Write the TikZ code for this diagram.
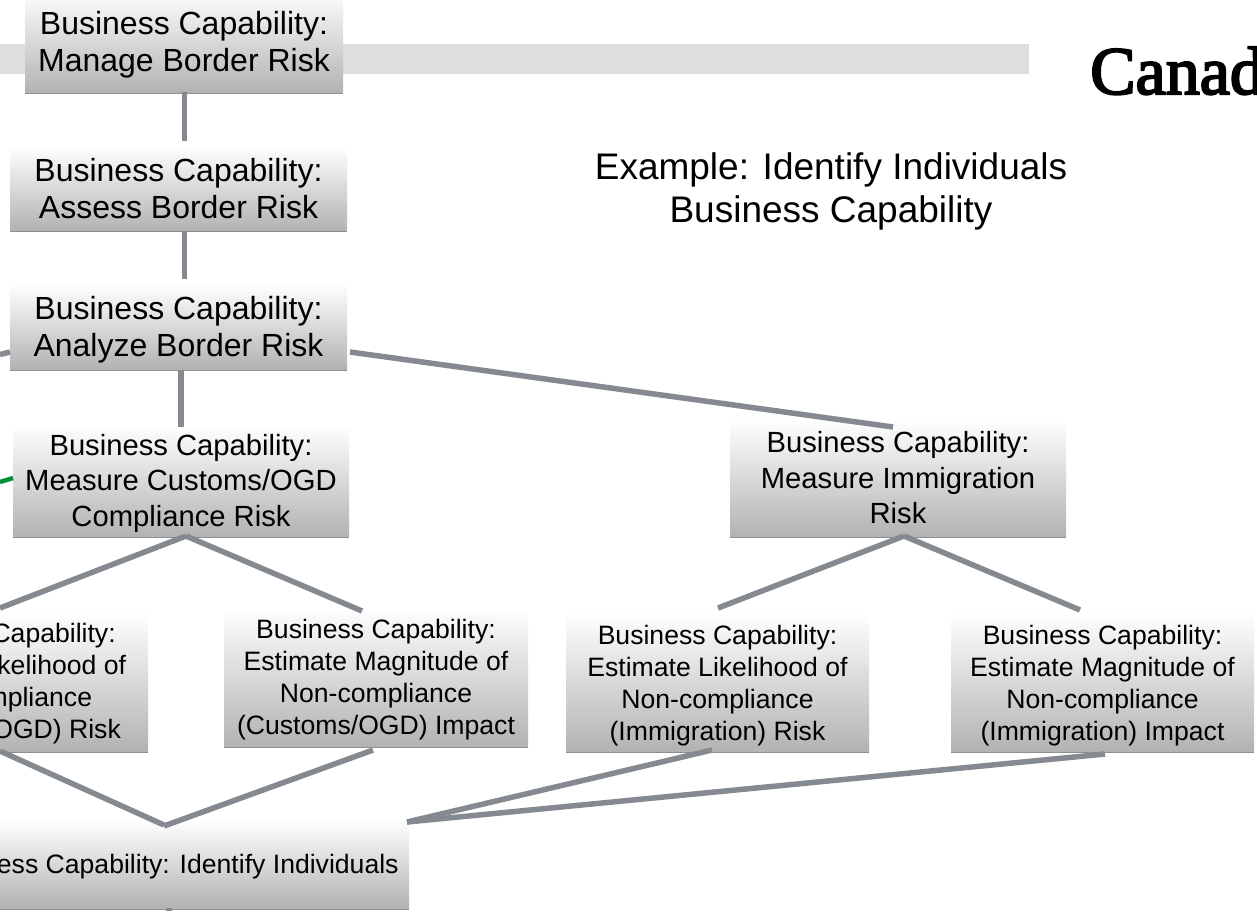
\documentclass[tikz,border=0pt]{standalone}
\usepackage{fontspec}
\setmainfont{Liberation Sans}
\newfontfamily\logofont[RawFeature={embolden=3}]{Liberation Serif}
\usetikzlibrary{shadows}
\definecolor{linkgray}{HTML}{858A90}
\definecolor{bandgray}{HTML}{DCDEE0}
\definecolor{linkgreen}{HTML}{008F3E}
\newcommand{\dn}[1]{\rule{0pt}{\dimexpr.73em+#1\relax}}
\tikzset{
  x=1pt,y=-1pt,
  bcbox/.style={rectangle,inner sep=0pt,outer sep=0pt,align=center,top color=white,bottom color=black!30,
    drop shadow={shadow xshift=0pt,shadow yshift=-1.5pt,fill=black!55,opacity=.8}},
  fa/.style={font=\fontsize{32}{37.5}\selectfont},
  fb/.style={font=\fontsize{29.2}{35.5}\selectfont},
  fc/.style={font=\fontsize{26.6}{32}\selectfont},
  link/.style={draw=linkgray,line width=5.5pt},
  greenlink/.style={draw=linkgreen,line width=4.5pt},
}
\begin{document}
\begin{tikzpicture}
\clip (0,0) rectangle (1257,911);
\fill[white] (0,0) rectangle (1257,911);
\fill[bandgray] (0,44) rectangle (1029,74);
\node[anchor=base west,inner sep=0pt,font=\logofont\fontsize{68}{68}\selectfont] (logo) at (1090,94) {Canad};
\node[font=\fontsize{37}{43}\selectfont,align=center] (title) at (831,191) {Example: Identify Individuals\\Business Capability};

\node[bcbox,fa,minimum width=318pt,minimum height=102pt] (b1) at (184,41) {\dn{7pt}Business Capability:\\Manage Border Risk};
\node[bcbox,fa,minimum width=337pt,minimum height=84pt] (b2) at (178.5,188) {\dn{1pt}Business Capability:\\Assess Border Risk};
\node[bcbox,fa,minimum width=337pt,minimum height=85pt] (b3) at (178.5,326.5) {\dn{6pt}Business Capability:\\Analyze Border Risk};
\node[bcbox,fb,minimum width=336pt,minimum height=111pt] (b4) at (181,480.5) {\dn{5pt}Business Capability:\\Measure Customs/OGD\\Compliance Risk};
\node[bcbox,fb,minimum width=336pt,minimum height=116pt] (b5) at (898,478) {Business Capability:\\Measure Immigration\\Risk};
\node[bcbox,fc,minimum width=304pt,minimum height=139pt] (b6) at (-4,681.5) {\dn{4pt}Business Capability:\\Estimate Likelihood of\\Non-compliance\\(Customs/OGD) Risk};
\node[bcbox,fc,minimum width=304pt,minimum height=139pt] (b7) at (376,676.5) {\dn{6pt}Business Capability:\\Estimate Magnitude of\\Non-compliance\\(Customs/OGD) Impact};
\node[bcbox,fc,minimum width=303pt,minimum height=138pt] (b8) at (717.5,682) {\dn{7pt}Business Capability:\\Estimate Likelihood of\\Non-compliance\\(Immigration) Risk};
\node[bcbox,fc,minimum width=303pt,minimum height=138pt] (b9) at (1102.5,682) {\dn{7pt}Business Capability:\\Estimate Magnitude of\\Non-compliance\\(Immigration) Impact};
\node[bcbox,fc,minimum width=489pt,minimum height=88pt] (b10) at (164.5,864) {\dn{6pt}Business Capability: Identify Individuals};

\coordinate (leftgray) at (0,354.5);
\coordinate (leftgreen) at (0,482);
\coordinate (bottomend) at (169,911);

\draw[link] ([shift={(0.5,0)}]b1.south) -- ([shift={(6,-5)}]b2.north);
\draw[link] ([shift={(6,2)}]b2.south) -- ([shift={(6,-5)}]b3.north);
\draw[link] ([shift={(2.5,1)}]b3.south) -- ([shift={(0,2)}]b4.north);
\draw[link] ([shift={(3,-17)}]b3.south east) -- ([shift={(-5,7)}]b5.north);
\draw[link] ([xshift=5]b4.south) -- ([shift={(4,-4)}]b6.north);
\draw[link] ([xshift=5]b4.south) -- ([shift={(-14,4)}]b7.north);
\draw[link] ([xshift=6]b5.south) -- ([shift={(0.5,-5)}]b8.north);
\draw[link] ([xshift=6]b5.south) -- ([shift={(-22.5,-3)}]b9.north);
\draw[link] ([shift={(4,0)}]b6.south) -- ([shift={(-0.5,5)}]b10.north);
\draw[link] ([shift={(-3,4)}]b7.south) -- ([shift={(-0.5,6)}]b10.north);
\draw[link] ([shift={(-5.5,-1)}]b8.south) -- ([shift={(-2,2)}]b10.north east);
\draw[link] ([shift={(2.5,3)}]b9.south) -- ([shift={(-2,2)}]b10.north east);
\draw[link] (leftgray) -- ([shift={(0,-17)}]b3.south west);
\draw[greenlink] (leftgreen) -- ([shift={(0,-2.5)}]b4.west);
\draw[link] ([xshift=4.5]b10.south) -- (bottomend);
\end{tikzpicture}
\end{document}
